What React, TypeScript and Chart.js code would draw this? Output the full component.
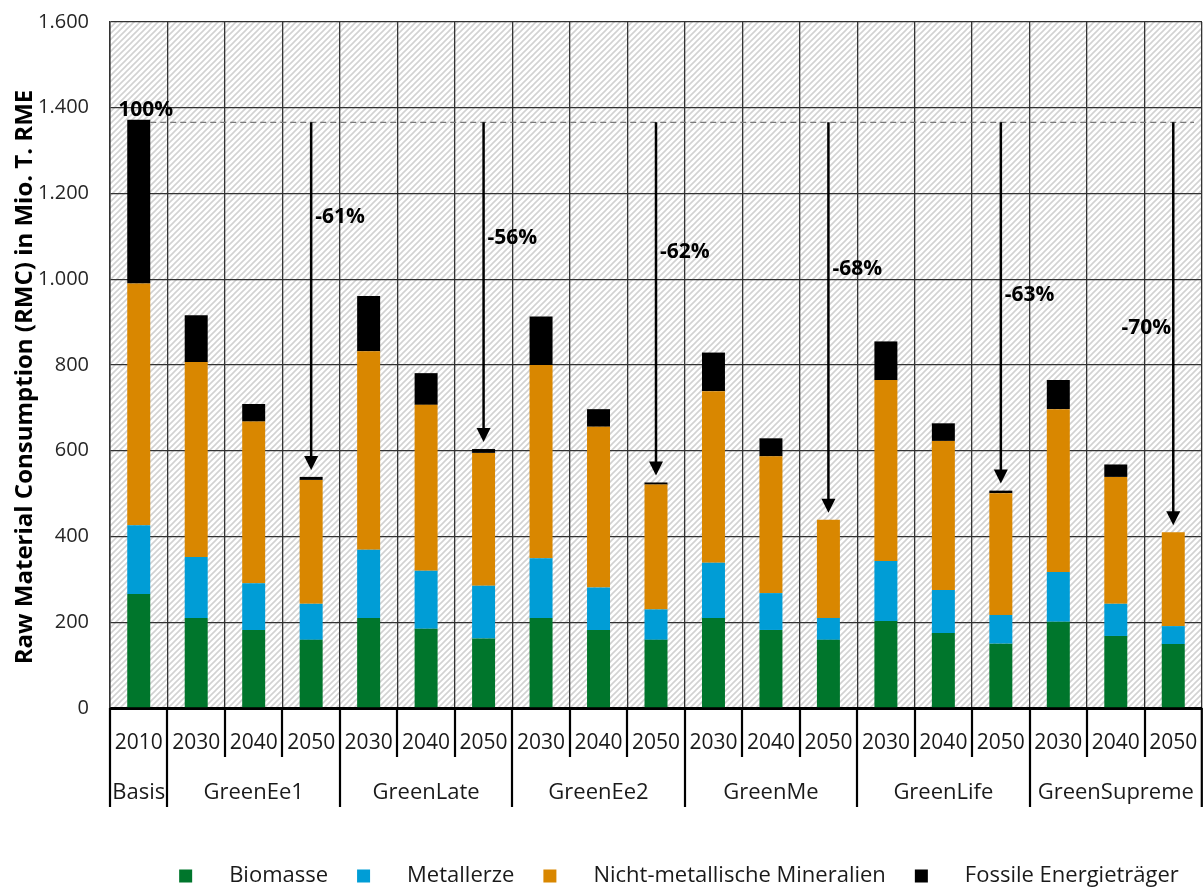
import React, { useEffect, useRef } from 'react';
import { Chart, registerables } from 'chart.js';

Chart.register(...registerables);

// ---------- data ----------
const yearLabels = ['2010', '2030', '2040', '2050', '2030', '2040', '2050', '2030', '2040', '2050', '2030', '2040', '2050', '2030', '2040', '2050', '2030', '2040', '2050'];
const groupNames = ['Basis', 'GreenEe1', 'GreenLate', 'GreenEe2', 'GreenMe', 'GreenLife', 'GreenSupreme'];
const groupSizes = [1, 3, 3, 3, 3, 3, 3];

const biomasse = [266, 210, 182, 159, 210, 185, 162, 210, 182, 159, 210, 182, 159, 203, 175, 150, 201, 168, 149];
const metallerze = [160, 142, 109, 84, 159, 135, 123, 139, 99, 71, 129, 86, 51, 140, 100, 67, 116, 75, 42];
const mineralien = [564, 455, 377, 289, 463, 387, 310, 451, 375, 291, 400, 319, 229, 422, 348, 284, 380, 296, 219];
const fossile = [382, 109, 41, 7, 129, 74, 9, 113, 41, 5, 90, 42, 0, 90, 41, 6, 68, 29, 0];

const seriesNames = ['Biomasse', 'Metallerze', 'Nicht-metallische Mineralien', 'Fossile Energieträger'];
const seriesColors = ['#00762C', '#009DD6', '#D98700', '#000000'];

const yMin = 0;
const yMax = 1600;
const yStep = 200;
const yTitle = 'Raw Material Consumption (RMC) in Mio. T. RME';

const referenceLevel = 1366;
const referenceLabel = '100%';
const referenceLabelLevel = 1394;
const arrowTargets = [3, 6, 9, 12, 15, 18];
const reductionLabels = ['-61%', '-56%', '-62%', '-68%', '-63%', '-70%'];
const reductionLabelLevels = [1146, 1096, 1064, 1025, 963, 886];

const FONT = '"Open Sans", Lato, sans-serif';

function fmt(v: number): string {
  if (v >= 1000) {
    const t = Math.floor(v / 1000);
    const r = v % 1000;
    return `${t}.${String(r).padStart(3, '0')}`;
  }
  return String(v);
}

function makeHatch(): CanvasPattern | string {
  const c = document.createElement('canvas');
  c.width = 6;
  c.height = 6;
  const p = c.getContext('2d');
  if (!p) return '#eeeeee';
  p.fillStyle = '#ffffff';
  p.fillRect(0, 0, 6, 6);
  p.strokeStyle = '#d2d2d2';
  p.lineWidth = 1.6;
  p.beginPath();
  p.moveTo(-1, 7);
  p.lineTo(7, -1);
  p.moveTo(-4, 4);
  p.lineTo(4, -4);
  p.moveTo(2, 10);
  p.lineTo(10, 2);
  p.stroke();
  const pat = p.createPattern(c, 'repeat');
  return pat || '#eeeeee';
}

const decorPlugin = {
  id: 'decor',
  beforeDraw(chart: any) {
    const { ctx, chartArea } = chart;
    ctx.save();
    ctx.fillStyle = '#ffffff';
    ctx.fillRect(0, 0, chart.width, chart.height);
    ctx.fillStyle = makeHatch();
    ctx.fillRect(chartArea.left, chartArea.top, chartArea.right - chartArea.left, chartArea.bottom - chartArea.top);
    ctx.restore();
  },
  afterDatasetsDraw(chart: any) {
    const { ctx, chartArea } = chart;
    const xs = chart.scales.x;
    const ys = chart.scales.y;
    const lastMeta = chart.getDatasetMeta(3);
    const basisBar = lastMeta.data[0];
    const refY = ys.getPixelForValue(referenceLevel);
    ctx.save();
    // dashed reference line
    ctx.strokeStyle = '#7a7a7a';
    ctx.lineWidth = 1.3;
    ctx.setLineDash([6, 4]);
    ctx.beginPath();
    ctx.moveTo(basisBar.x + basisBar.width / 2, refY);
    ctx.lineTo(chartArea.right - 8, refY);
    ctx.stroke();
    ctx.setLineDash([]);

    // 100% label
    ctx.fillStyle = '#000';
    ctx.font = `bold 21px ${FONT}`;
    ctx.textAlign = 'center';
    ctx.textBaseline = 'middle';
    ctx.fillText(referenceLabel, basisBar.x + 7, ys.getPixelForValue(referenceLabelLevel));

    // arrows
    arrowTargets.forEach((idx, k) => {
      const x = xs.getPixelForValue(idx);
      let total = 0;
      [biomasse, metallerze, mineralien, fossile].forEach((arr) => (total += arr[idx]));
      const tipY = ys.getPixelForValue(total) - 7;
      const head = 14;
      ctx.strokeStyle = '#000';
      ctx.lineWidth = 2.5;
      ctx.beginPath();
      ctx.moveTo(x, refY);
      ctx.lineTo(x, tipY - head + 2);
      ctx.stroke();
      ctx.fillStyle = '#000';
      ctx.beginPath();
      ctx.moveTo(x, tipY);
      ctx.lineTo(x - 7, tipY - head);
      ctx.lineTo(x + 7, tipY - head);
      ctx.closePath();
      ctx.fill();

      const ly = ys.getPixelForValue(reductionLabelLevels[k]);
      ctx.font = `bold 21px ${FONT}`;
      ctx.textBaseline = 'middle';
      if (k === arrowTargets.length - 1) {
        ctx.textAlign = 'right';
        ctx.fillText(reductionLabels[k], x - 2, ly);
      } else {
        ctx.textAlign = 'left';
        ctx.fillText(reductionLabels[k], x + 4, ly);
      }
    });
    ctx.restore();
  },
  afterDraw(chart: any) {
    const { ctx, chartArea } = chart;
    const xs = chart.scales.x;
    const half = (xs.getPixelForValue(1) - xs.getPixelForValue(0)) / 2;
    const bottom = chartArea.bottom;
    const groupStarts = new Set<number>();
    let acc = 0;
    groupStarts.add(0);
    groupSizes.forEach((s) => {
      acc += s;
      groupStarts.add(acc);
    });
    ctx.save();
    ctx.strokeStyle = '#000';
    ctx.lineWidth = 2.2;
    for (let i = 0; i <= yearLabels.length; i++) {
      const bx = i < yearLabels.length ? xs.getPixelForValue(i) - half : xs.getPixelForValue(yearLabels.length - 1) + half;
      const len = groupStarts.has(i) ? 99 : 49;
      const px = Math.min(Math.round(bx), chart.width - 1.2);
      ctx.beginPath();
      ctx.moveTo(px, bottom);
      ctx.lineTo(px, bottom + len);
      ctx.stroke();
    }
    // group labels
    ctx.fillStyle = '#1a1a1a';
    ctx.font = `22px ${FONT}`;
    ctx.textAlign = 'center';
    ctx.textBaseline = 'middle';
    let start = 0;
    groupNames.forEach((g, gi) => {
      const s = groupSizes[gi];
      const x0 = xs.getPixelForValue(start) - half;
      const x1 = xs.getPixelForValue(start + s - 1) + half;
      ctx.fillText(g, (x0 + x1) / 2, bottom + 85);
      start += s;
    });

    // y axis title
    ctx.save();
    ctx.translate(25, (chartArea.top + chartArea.bottom) / 2 + 12);
    ctx.rotate(-Math.PI / 2);
    ctx.fillStyle = '#000';
    ctx.font = `bold 24px ${FONT}`;
    ctx.textAlign = 'center';
    ctx.textBaseline = 'middle';
    ctx.fillText(yTitle, 0, 0);
    ctx.restore();

    // legend
    ctx.font = `22px ${FONT}`;
    const box = 13;
    const gap = 37;
    const spacing = 29;
    const widths = seriesNames.map((n) => ctx.measureText(n).width);
    const total = widths.reduce((a, w) => a + box + gap + w, 0) + spacing * (seriesNames.length - 1);
    let lx = 679 - total / 2;
    const ly = 876;
    ctx.textAlign = 'left';
    ctx.textBaseline = 'middle';
    seriesNames.forEach((n, i) => {
      ctx.fillStyle = seriesColors[i];
      ctx.fillRect(lx, ly - box / 2, box, box);
      ctx.fillStyle = '#1a1a1a';
      ctx.fillText(n, lx + box + gap, ly);
      lx += box + gap + widths[i] + spacing;
    });
    ctx.restore();
  },
};

export default function App() {
  const ref = useRef<HTMLCanvasElement | null>(null);
  useEffect(() => {
    if (!ref.current) return;
    const series = [biomasse, metallerze, mineralien, fossile];
    const chart = new Chart(ref.current, {
      type: 'bar',
      data: {
        labels: yearLabels,
        datasets: series.map((d, i) => ({
          label: seriesNames[i],
          data: d,
          backgroundColor: seriesColors[i],
          borderWidth: 0,
          barPercentage: 0.4,
          categoryPercentage: 1,
        })),
      },
      options: {
        animation: false,
        responsive: false,
        maintainAspectRatio: false,
        layout: { padding: { top: 22, right: 1, bottom: 0, left: 0 } },
        plugins: {
          legend: { display: false },
          tooltip: { enabled: false },
          title: { display: false },
        },
        scales: {
          x: {
            stacked: true,
            offset: true,
            grid: { offset: true, color: '#333333', lineWidth: 1.3, drawTicks: false },
            border: { color: '#000', width: 3 },
            ticks: {
              autoSkip: false,
              maxRotation: 0,
              padding: 22,
              color: '#1a1a1a',
              font: { family: FONT, size: 21 },
            },
            afterFit: (s: any) => {
              s.height = 179;
              s.paddingLeft = 0;
              s.paddingRight = 0;
            },
          },
          y: {
            stacked: true,
            min: yMin,
            max: yMax,
            grid: { color: '#333333', lineWidth: 1.3, drawTicks: false },
            border: { color: '#333', width: 1.5 },
            ticks: {
              stepSize: yStep,
              padding: 21,
              color: '#262626',
              font: { family: FONT, size: 20 },
              callback: (v: any) => fmt(Number(v)),
            },
            title: { display: false },
            afterFit: (s: any) => {
              s.width = 110;
              s.paddingTop = 0;
              s.paddingBottom = 0;
            },
          },
        },
      },
      plugins: [decorPlugin],
    });
    return () => chart.destroy();
  }, []);
  return (
    <div style={{ position: 'fixed', left: 0, top: 0, width: 1203, height: 887, background: '#fff' }}>
      <canvas ref={ref} width={1203} height={887} style={{ width: 1203, height: 887, display: 'block' }} />
    </div>
  );
}
